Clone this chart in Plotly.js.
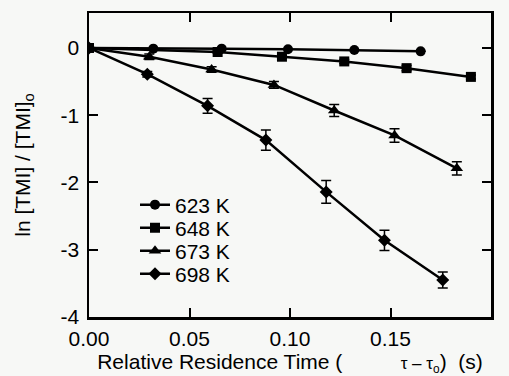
<!DOCTYPE html>
<html>
<head>
<meta charset="utf-8">
<script src="https://cdn.plot.ly/plotly-3.0.1.min.js"></script>
<style>html,body{margin:0;padding:0;background:#f7f8f6;}#chart{width:509px;height:376px;}</style>
</head>
<body>
<div id="chart"></div>
<script>
// Series names
const seriesNames = ["623 K", "648 K", "673 K", "698 K"];
// 623 K
const x623 = [0, 0.032, 0.066, 0.099, 0.132, 0.165];
const y623 = [0, -0.01, -0.01, -0.02, -0.03, -0.05];
const e623 = [0, 0, 0, 0, 0, 0];
// 648 K
const x648 = [0, 0.064, 0.096, 0.127, 0.158, 0.190];
const y648 = [0, -0.06, -0.13, -0.20, -0.30, -0.43];
const e648 = [0, 0.02, 0.02, 0.03, 0.04, 0.03];
// 673 K
const x673 = [0, 0.030, 0.061, 0.092, 0.122, 0.152, 0.183];
const y673 = [0, -0.13, -0.32, -0.55, -0.93, -1.30, -1.79];
const e673 = [0, 0.04, 0.04, 0.05, 0.09, 0.10, 0.10];
// 698 K
const x698 = [0, 0.029, 0.059, 0.088, 0.118, 0.147, 0.176];
const y698 = [0, -0.39, -0.86, -1.37, -2.14, -2.86, -3.45];
const e698 = [0, 0.04, 0.11, 0.15, 0.17, 0.15, 0.12];
// Tick labels
const xTickVals = [0, 0.05, 0.10, 0.15, 0.20];
const xTickText = ["0.00", "0.05", "0.10", "0.15", "0.20"];
const yTickVals = [0, -1, -2, -3, -4];
const yTickText = ["0", "-1", "-2", "-3", "-4"];

const xs = [x623, x648, x673, x698];
const ys = [y623, y648, y673, y698];
const es = [e623, e648, e673, e698];
const symbols = ["circle", "square", "triangle-up", "diamond"];
const sizes = [10, 10, 11, 10];
const legendIds = ["legend", "legend2", "legend3", "legend4"];

const FONT = "Liberation Sans, Arial, Helvetica, sans-serif";
const traces = seriesNames.map((n, i) => ({
  type: "scatter", mode: "lines+markers", name: n,
  x: xs[i], y: ys[i],
  legend: legendIds[i],
  line: {color: "#000", width: 2.5},
  marker: {symbol: symbols[i], size: sizes[i], color: "#000"},
  error_y: {type: "data", array: es[i], visible: true, color: "#000", thickness: 1.5, width: 5}
}));

const rowY = [205, 228, 251, 274];
const plotTop = 13, plotBottom = 317;
const layout = {
  width: 509, height: 376,
  paper_bgcolor: "#f7f8f6", plot_bgcolor: "#f7f8f6",
  margin: {l: 89, r: 18, t: 13, b: 59},
  font: {family: FONT, size: 21, color: "#000"},
  showlegend: true,
  xaxis: {
    range: [0, 0.2], tickvals: xTickVals, ticktext: xTickText,
    ticks: "inside", ticklen: 9, tickwidth: 2, tickcolor: "#000",
    showline: true, linewidth: 2.5, linecolor: "#000", mirror: "ticks",
    showgrid: false, zeroline: false, ticklabelstandoff: 1,
    tickfont: {size: 21},
    title: {text: "Relative Residence Time (\u00A0\u00A0\u00A0\u00A0\u00A0\u00A0\u00A0\u00A0\u00A0\u00A0<span style='font-size:17px'>τ – τ<sub>o</sub></span>)\u00A0\u00A0(s)", font: {size: 21}, standoff: 9}
  },
  yaxis: {
    range: [-4, 0.52], tickvals: yTickVals, ticktext: yTickText,
    ticks: "inside", ticklen: 9, tickwidth: 2, tickcolor: "#000",
    showline: true, linewidth: 2.5, linecolor: "#000", mirror: "ticks",
    showgrid: false, zeroline: false, ticklabelstandoff: 3,
    tickfont: {size: 21},
    title: {text: "ln [TMI] / [TMI]<sub>o</sub>", font: {size: 21}, standoff: 25}
  }
};
legendIds.forEach((id, i) => {
  layout[id] = {
    x: (135 - 89) / 402, xanchor: "left",
    y: (plotBottom - rowY[i]) / (plotBottom - plotTop), yanchor: "middle",
    bgcolor: "rgba(0,0,0,0)", borderwidth: 0,
    font: {size: 21, family: FONT}
  };
});

Plotly.newPlot("chart", traces, layout, {displayModeBar: false, staticPlot: true});
</script>
</body>
</html>
